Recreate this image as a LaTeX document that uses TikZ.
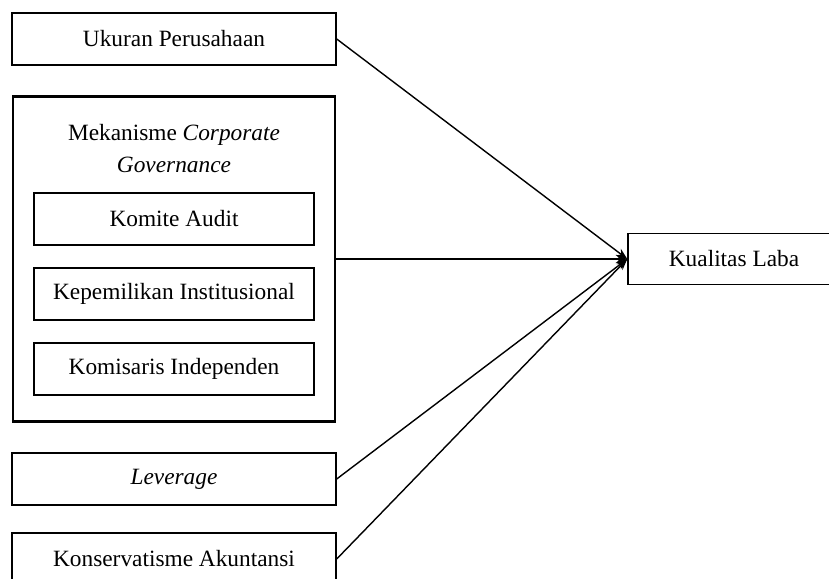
\documentclass[tikz,border=0pt]{standalone}
\usepackage{fontspec}
\setmainfont{Liberation Serif}
\usetikzlibrary{arrows,arrows.meta,shapes,positioning}

\begin{document}
\begin{tikzpicture}[on grid, >={Stealth[length=8pt,width=6pt]}, font=\fontsize{16.6}{22.5}\selectfont,
        box/.style={draw,line width=1pt,minimum width=8.1cm,minimum height=1.3cm},
        inbox/.style={draw,line width=1pt,minimum width=7cm,minimum height=1.3cm},
        group/.style={draw,line width=1.8pt,minimum width=8.05cm,minimum height=8.125cm}]
        \useasboundingbox (-4.35,0.975) rectangle (16.375,-13.5);
        \node[box]    (u)                          {Ukuran Perusahaan};
        \node[group]  (m) [below=5.5cm of u]       {};
        \node[inbox]  (a) [above=1cm of m]         {Komite Audit};
        \node[align=center] (t) [above=1.76cm of a] {Mekanisme \textit{Corporate}\\\textit{Governance}};
        \node[inbox]  (i) [below=1.875cm of a]     {Kepemilikan Institusional};
        \node[inbox]  (d) [below=1.875cm of i]     {Komisaris Independen};
        \node[box]    (l) [below=5.5cm of m]       {\textit{Leverage}};
        \node[box]    (k) [below=2cm of l]         {Konservatisme Akuntansi};
        \node[box,minimum width=5.3cm,minimum height=1.275cm]
                      (q) [right=14cm of m]        {Kualitas Laba};

        \path[->,line width=1pt]
                (u.east) edge (q.west)
                (m.east) edge (q.west)
                (l.east) edge (q.west)
                (k.east) edge (q.west);
\end{tikzpicture}
\end{document}
